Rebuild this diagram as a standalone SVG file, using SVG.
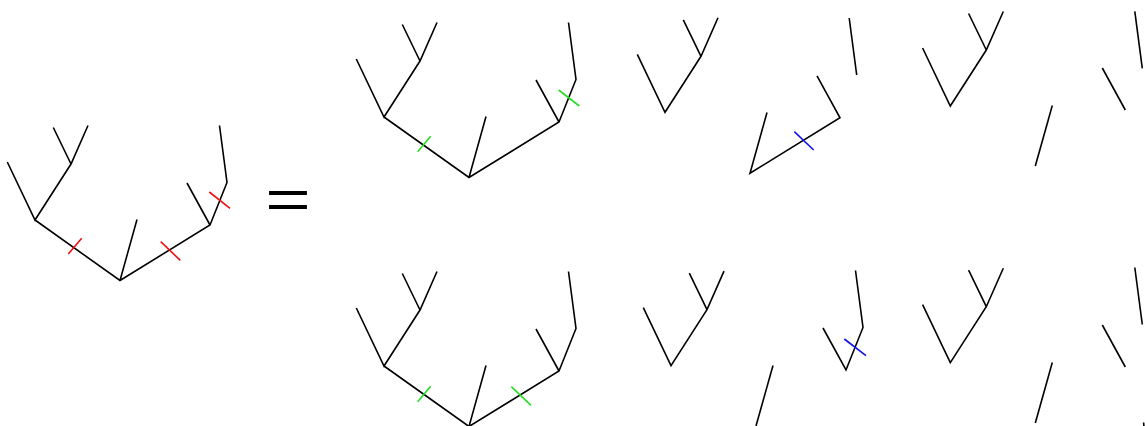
<svg xmlns="http://www.w3.org/2000/svg" width="1145" height="426" viewBox="0 0 1145 426">
<style>
.e{fill:none;stroke:#000;stroke-width:1.6;stroke-linecap:butt;stroke-linejoin:miter}
.r{fill:none;stroke:#f01010;stroke-width:1.6}
.g{fill:none;stroke:#22e022;stroke-width:1.6}
.b{fill:none;stroke:#1010f0;stroke-width:1.6}
.eq{font-family:"Liberation Sans",Arial,sans-serif;font-size:78px;fill:#000}
</style>
<defs>
<path id="full" class="e" d="M-112.7 -118.5L-85 -60.5L-49 -116.5L-32 -155M-66.7 -153L-49 -116.5M-85 -60.5L0 0L90 -55.5L107 -98L99.5 -155M0 0L17 -61M90 -55.5L67 -97.5"/>
<path id="subA" class="e" d="M-27.7 -58L0 0L36 -56L53 -94.5M18.3 -92.5L36 -56"/>
</defs>
<rect width="1145" height="426" fill="#fff"/>
<g id="tree-left">
<use href="#full" transform="translate(120,280.5)"/>
<path class="r" d="M68.3 254L81.7 238.3M160.7 241.7L180.3 260.3M209.3 192L230 208.3"/>
</g>
<g id="equals">
<text class="eq" text-anchor="middle" transform="translate(288,217.6) scale(1,0.72)">=</text>
</g>
<g id="tree-top-1">
<use href="#full" transform="translate(469,177.5)"/>
<path class="g" d="M417.7 151.7L430.7 136.3M558.7 90L579.3 106"/>
</g>
<g id="top-2a"><use href="#subA" transform="translate(665,112.3)"/></g>
<g id="top-2b">
<path class="e" d="M767 112.5L750 173.3L840 117.8L817 75.8"/>
<path class="b" d="M794.3 131.7L813.7 150"/>
</g>
<g id="top-2c"><path class="e" d="M856.7 75L849.2 18"/></g>
<g id="top-3a"><use href="#subA" transform="translate(950.3,106)"/></g>
<g id="top-3b"><path class="e" d="M1035.3 166L1052.3 105.5"/></g>
<g id="top-3c"><path class="e" d="M1125.3 110L1102.3 68"/></g>
<g id="top-3d"><path class="e" d="M1142.3 68.3L1134.8 11.3"/></g>
<g id="tree-bottom-1">
<use href="#full" transform="translate(469,426.5)"/>
<path class="g" d="M417.7 401.7L430.7 386.3M511.3 386.7L531 405.3"/>
</g>
<g id="bottom-2a"><use href="#subA" transform="translate(671,365.6)"/></g>
<g id="bottom-2b"><path class="e" d="M756 426L773 365.5"/></g>
<g id="bottom-2c">
<path class="e" d="M823 328L846 370L863 327.5L855.5 270.5"/>
<path class="b" d="M844.3 339L866 355.7"/>
</g>
<g id="bottom-3a"><use href="#subA" transform="translate(950.3,362.7)"/></g>
<g id="bottom-3b"><path class="e" d="M1035.3 423L1052.3 362.5"/></g>
<g id="bottom-3c"><path class="e" d="M1125.3 367L1102.3 325"/></g>
<g id="bottom-3d"><path class="e" d="M1142.3 324.5L1134.8 267.5"/></g>
<g id="bottom-edge"><path class="e" d="M1143.6 422.5L1143.9 426"/></g>
<g id="connectors"/>
</svg>
